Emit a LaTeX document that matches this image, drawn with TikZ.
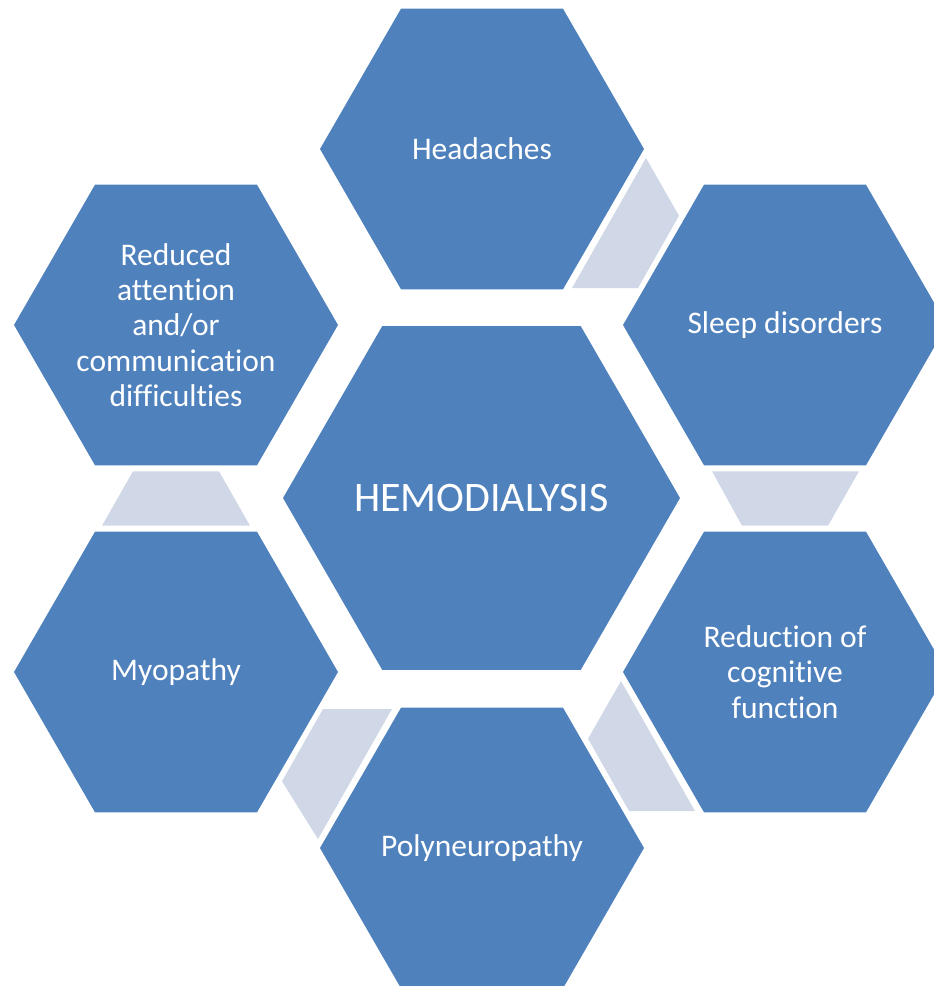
\documentclass[tikz,border=0pt]{standalone}
\usepackage{fontspec}
\setmainfont{Carlito}[Ligatures=NoCommon]
\usetikzlibrary{shapes.geometric,calc}
\definecolor{hexblue}{HTML}{4F81BD}
\definecolor{linkgrey}{HTML}{D0D8E8}
\tikzset{
	hex/.style={regular polygon, regular polygon sides=6, minimum size=324pt,
		inner sep=0pt, outer sep=0pt, fill=hexblue},
	hextext/.style={text=white, align=center, inner sep=0pt,
		font=\fontsize{31.5}{35.3}\selectfont},
	link/.style={fill=linkgrey}
}
\begin{document}
\begin{tikzpicture}[x=1pt,y=-1pt]
		\clip (0,0) rectangle (934,986);
		% hexagons
		\node[hex, minimum size=397pt] (hemo) at (481.5,498) {};
		\node[hex] (head) at (482,149) {};
		\node[hex] (sleep) at (785,325) {};
		\node[hex] (reduct) at (785,672) {};
		\node[hex] (poly) at (482,848) {};
		\node[hex] (myo) at (176,672) {};
		\node[hex] (atten) at (176,325) {};
		% texts
		\node[hextext, font=\fontsize{42}{50}\selectfont] (hemo-t) at (hemo) {HEMODIALYSIS};
		\node[hextext] (head-t) at (head) {Headaches};
		\node[hextext] (sleep-t) at (sleep) {Sleep disorders};
		\node[hextext] (reduct-t) at (reduct) {Reduction of\\cognitive\\function};
		\node[hextext] (poly-t) at (poly) {Polyneuropathy};
		\node[hextext] (myo-t) at (myo) {Myopathy};
		\node[hextext] (atten-t) at (atten) {Reduced\\attention\\and/or\\communication\\difficulties};
		% links between neighbours
		\fill[link] ($(head)+(164,9)$) -- ($(sleep)+(-106,-109.3)$)
			-- ($(sleep)+(-147,-37)$) -- ($(head)+(90,139)$) -- cycle;
		\fill[link] ($(sleep)+(-73,146.3)$) -- ($(sleep)+(74,146.3)$)
			-- ($(reduct)+(43,-146.3)$) -- ($(reduct)+(-43,-146.3)$) -- cycle;
		\fill[link] ($(reduct)+(-164,9)$) -- ($(poly)+(106,-109.3)$)
			-- ($(poly)+(147,-37)$) -- ($(reduct)+(-90,139)$) -- cycle;
		\fill[link] ($(poly)+(-164,-9)$) -- ($(myo)+(106,109.3)$)
			-- ($(myo)+(147,37)$) -- ($(poly)+(-90,-139)$) -- cycle;
		\fill[link] ($(atten)+(-43,146.3)$) -- ($(atten)+(43,146.3)$)
			-- ($(myo)+(74,-146.3)$) -- ($(myo)+(-74,-146.3)$) -- cycle;
\end{tikzpicture}
\end{document}
